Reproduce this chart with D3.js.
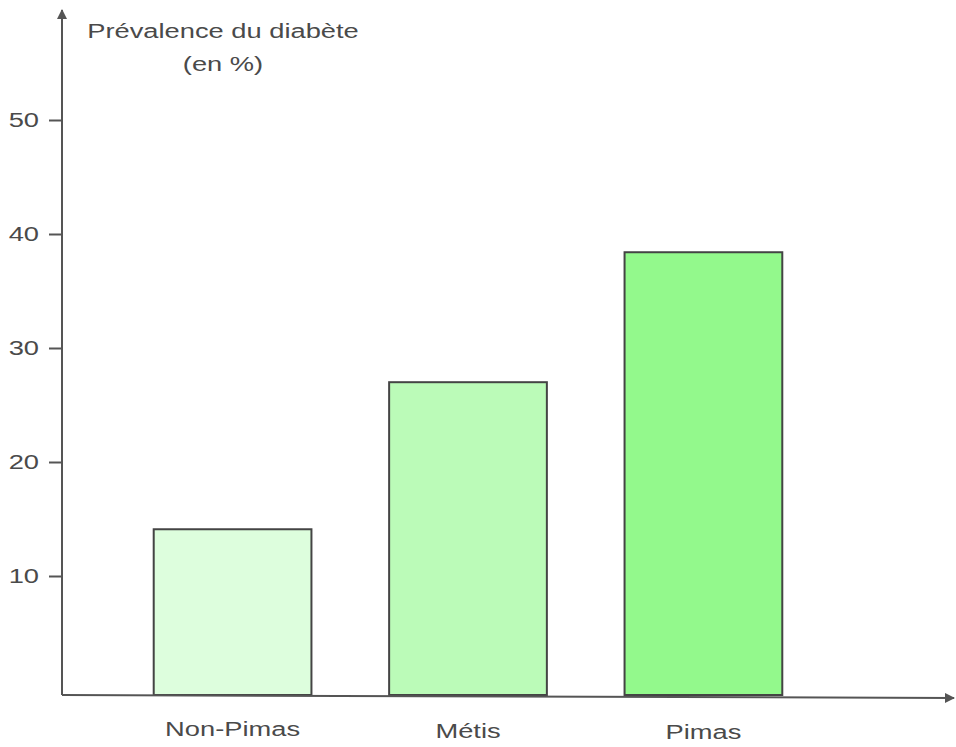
<!DOCTYPE html>
<html><head><meta charset="utf-8">
<script src="https://cdn.jsdelivr.net/npm/d3@7"></script>
<style>body{margin:0;background:#fff}svg{display:block}text{font-family:"Liberation Sans",Arial,sans-serif;fill:#4a4a4a}</style>
</head><body>
<svg id="c" width="956" height="747"></svg>
<script>
const categories = ["Non-Pimas", "Métis", "Pimas"];
const values = [14.1, 27.0, 38.4];
const colors = ["#ddfedd", "#bbfbb8", "#93f98c"];
const tickValues = [10, 20, 30, 40, 50];
const yTitle = ["Prévalence du diabète", "(en %)"];

const svg = d3.select("#c");
const axisX = 62, axisY = 695;
const SX = 1.3, FS = 21;
const x = d3.scaleBand().domain(categories).range([36, 900]).paddingInner(0.33).paddingOuter(0.5);
const y = d3.scaleLinear().domain([0, 50]).range([690, 120]);

// bars
svg.selectAll("rect.bar").data(categories).enter().append("rect")
  .attr("class","bar")
  .attr("x", d => x(d))
  .attr("width", x.bandwidth())
  .attr("y", (d,i) => y(values[i]))
  .attr("height", (d,i) => axisY - y(values[i]))
  .attr("fill", (d,i) => colors[i])
  .attr("stroke", "#444").attr("stroke-width", 2);

// y axis ticks via d3 axis
const ya = d3.axisLeft(y).tickValues(tickValues).tickSize(13).tickFormat("");
const gy = svg.append("g").attr("transform", `translate(${axisX},0)`).call(ya);
gy.select(".domain").remove();
gy.selectAll(".tick line").attr("stroke","#555").attr("stroke-width",2);
// tick labels (horizontally stretched like the scan)
svg.selectAll("text.yl").data(tickValues).enter().append("text")
  .attr("class","yl")
  .attr("text-anchor","end")
  .attr("dy","0.35em")
  .style("font-size", FS+"px")
  .attr("transform", d => `translate(39,${y(d)}) scale(${SX},1)`)
  .text(d => d);

// axis lines with arrows
svg.append("defs").append("marker").attr("id","arr").attr("viewBox","0 0 10 10")
  .attr("refX",9).attr("refY",5).attr("markerWidth",5).attr("markerHeight",5)
  .attr("orient","auto").append("path").attr("d","M0,0L10,5L0,10Z").attr("fill","#555");
svg.append("line").attr("x1",axisX).attr("y1",axisY).attr("x2",axisX).attr("y2",10)
  .attr("stroke","#555").attr("stroke-width",2).attr("marker-end","url(#arr)");
svg.append("line").attr("x1",axisX).attr("y1",axisY).attr("x2",954).attr("y2",axisY+3)
  .attr("stroke","#555").attr("stroke-width",2).attr("marker-end","url(#arr)");

// x labels
svg.selectAll("text.xl").data(categories).enter().append("text")
  .attr("class","xl")
  .attr("text-anchor","middle")
  .style("font-size", FS+"px")
  .attr("transform", (d,i) => `translate(${x(d) + x.bandwidth()/2},${736 + i*1.5}) scale(${SX},1)`)
  .text(d => d);

// y title
svg.append("text").attr("text-anchor","middle").style("font-size",FS+"px")
  .attr("transform",`translate(223,38) scale(${SX},1)`).text(yTitle[0]);
svg.append("text").attr("text-anchor","middle").style("font-size",FS+"px")
  .attr("transform",`translate(223,71) scale(${SX},1)`).text(yTitle[1]);
</script>
</body></html>
